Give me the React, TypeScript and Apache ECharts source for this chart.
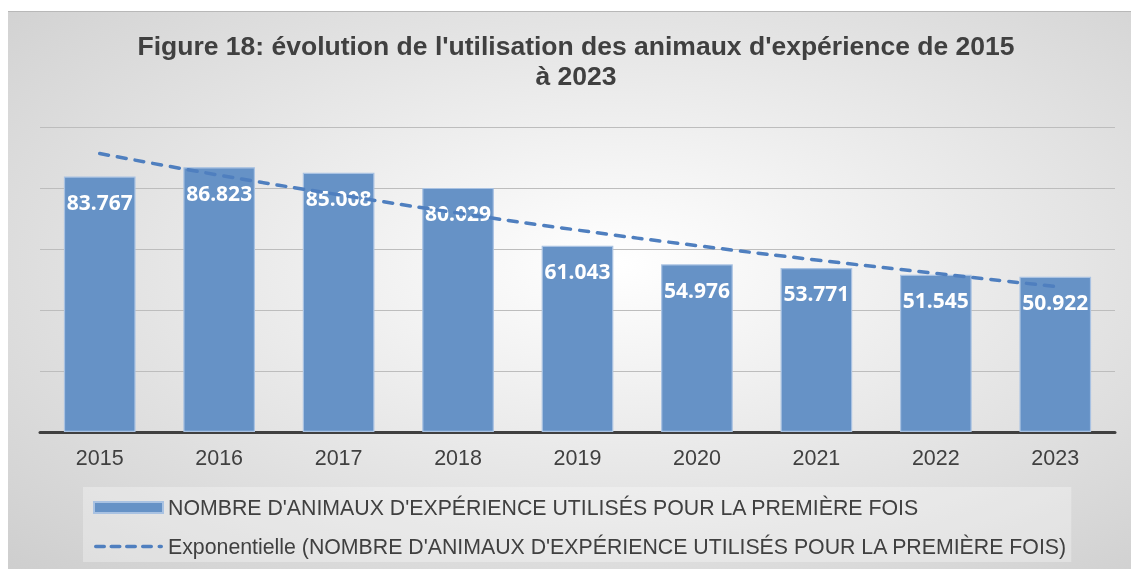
import React, { useEffect, useRef } from "react";
import * as echarts from "echarts";

const years = ["2015", "2016", "2017", "2018", "2019", "2020", "2021", "2022", "2023"];
const animals = [83767, 86823, 85008, 80029, 61043, 54976, 53771, 51545, 50922];
const trend = [91300, 84200, 77800, 71800, 66200, 61100, 56400, 52000, 47700];

const barName = "NOMBRE D'ANIMAUX D'EXPÉRIENCE UTILISÉS POUR LA PREMIÈRE FOIS";
const trendName = "Exponentielle (NOMBRE D'ANIMAUX D'EXPÉRIENCE UTILISÉS POUR LA PREMIÈRE FOIS)";
const titleText = "Figure 18: évolution de l'utilisation des animaux d'expérience de 2015\nà 2023";

const fmt = (v: number) => String(v).replace(/\B(?=(\d{3})+(?!\d))/g, ".");

const dash = (x: number, w: number) =>
  `M${x + 1.75},0h${w - 3.5}a1.75,1.75 0 0 1 0,3.5h${-(w - 3.5)}a1.75,1.75 0 0 1 0,-3.5z`;
const dashIcon =
  "path://" + [dash(0, 12), dash(15.5, 12), dash(31, 12), dash(47, 12), dash(63.5, 5.5)].join(" ");

export default function App() {
  const ref = useRef<HTMLDivElement>(null);
  useEffect(() => {
    if (!ref.current) return;
    const chart = echarts.init(ref.current, null, { renderer: "svg" });
    chart.setOption({
      animation: false,
      backgroundColor: {
        type: "radial",
        x: 0.54,
        y: 0.45,
        r: 1.02,
        colorStops: [
          { offset: 0, color: "#ffffff" },
          { offset: 1, color: "#bebebe" },
        ],
      },
      graphic: [
        {
          type: "text",
          x: 568,
          y: 19,
          style: {
            text: titleText,
            textAlign: "center",
            fontFamily: "Liberation Sans, Arial, sans-serif",
            fontWeight: "bold",
            fontSize: 26.5,
            lineHeight: 30,
            fill: "#404040",
          },
        },
      ],
      grid: { left: 32, right: 16, top: 115, bottom: 138, containLabel: false },
      legend: {
        orient: "vertical",
        left: 75,
        top: 475,
        padding: [10, 4, 5, 10],
        backgroundColor: "rgba(255,255,255,0.3)",
        itemWidth: 69,
        itemHeight: 11,
        itemGap: 18,
        textStyle: {
          fontFamily: "Liberation Sans, Arial, sans-serif",
          fontSize: 21.3,
          color: "#404040",
        },
        data: [
          { name: barName, icon: "rect" },
          { name: trendName, icon: dashIcon },
        ],
      },
      xAxis: {
        type: "category",
        data: years,
        axisLine: { lineStyle: { color: "#404040", width: 3 } },
        axisTick: { show: false },
        axisLabel: {
          fontFamily: "Liberation Sans, Arial, sans-serif",
          fontSize: 21.5,
          color: "#404040",
          margin: 15,
        },
      },
      yAxis: {
        type: "value",
        min: 0,
        max: 100000,
        interval: 20000,
        axisLabel: { show: false },
        axisLine: { show: false },
        axisTick: { show: false },
        splitLine: { lineStyle: { color: "#bdbdbd", width: 1 } },
      },
      series: [
        {
          name: barName,
          type: "bar",
          data: animals,
          barWidth: "60%",
          z: 2,
          itemStyle: { color: "#6692c6", borderColor: "#a9c2e2", borderWidth: 1.2 },
          label: {
            show: true,
            position: "insideTop",
            distance: 15,
            formatter: (p: any) => fmt(p.value),
            fontFamily: "Noto Sans, Open Sans, sans-serif",
            fontWeight: "bold",
            fontSize: 21,
            color: "#ffffff",
          },
        },
        {
          name: trendName,
          type: "line",
          data: trend,
          z: 5,
          symbol: "none",
          showSymbol: false,
          smooth: true,
          lineStyle: { color: "#4f7fbf", width: 3.5, type: [9, 9], cap: "round" },
          itemStyle: { color: "#4f7fbf" },
        },
      ],
    });
    return () => chart.dispose();
  }, []);
  return (
    <div
      ref={ref}
      style={{
        position: "fixed",
        left: 8,
        top: 11,
        width: 1123,
        height: 558,
        borderTop: "1px solid #b8b8b8",
      }}
    />
  );
}
